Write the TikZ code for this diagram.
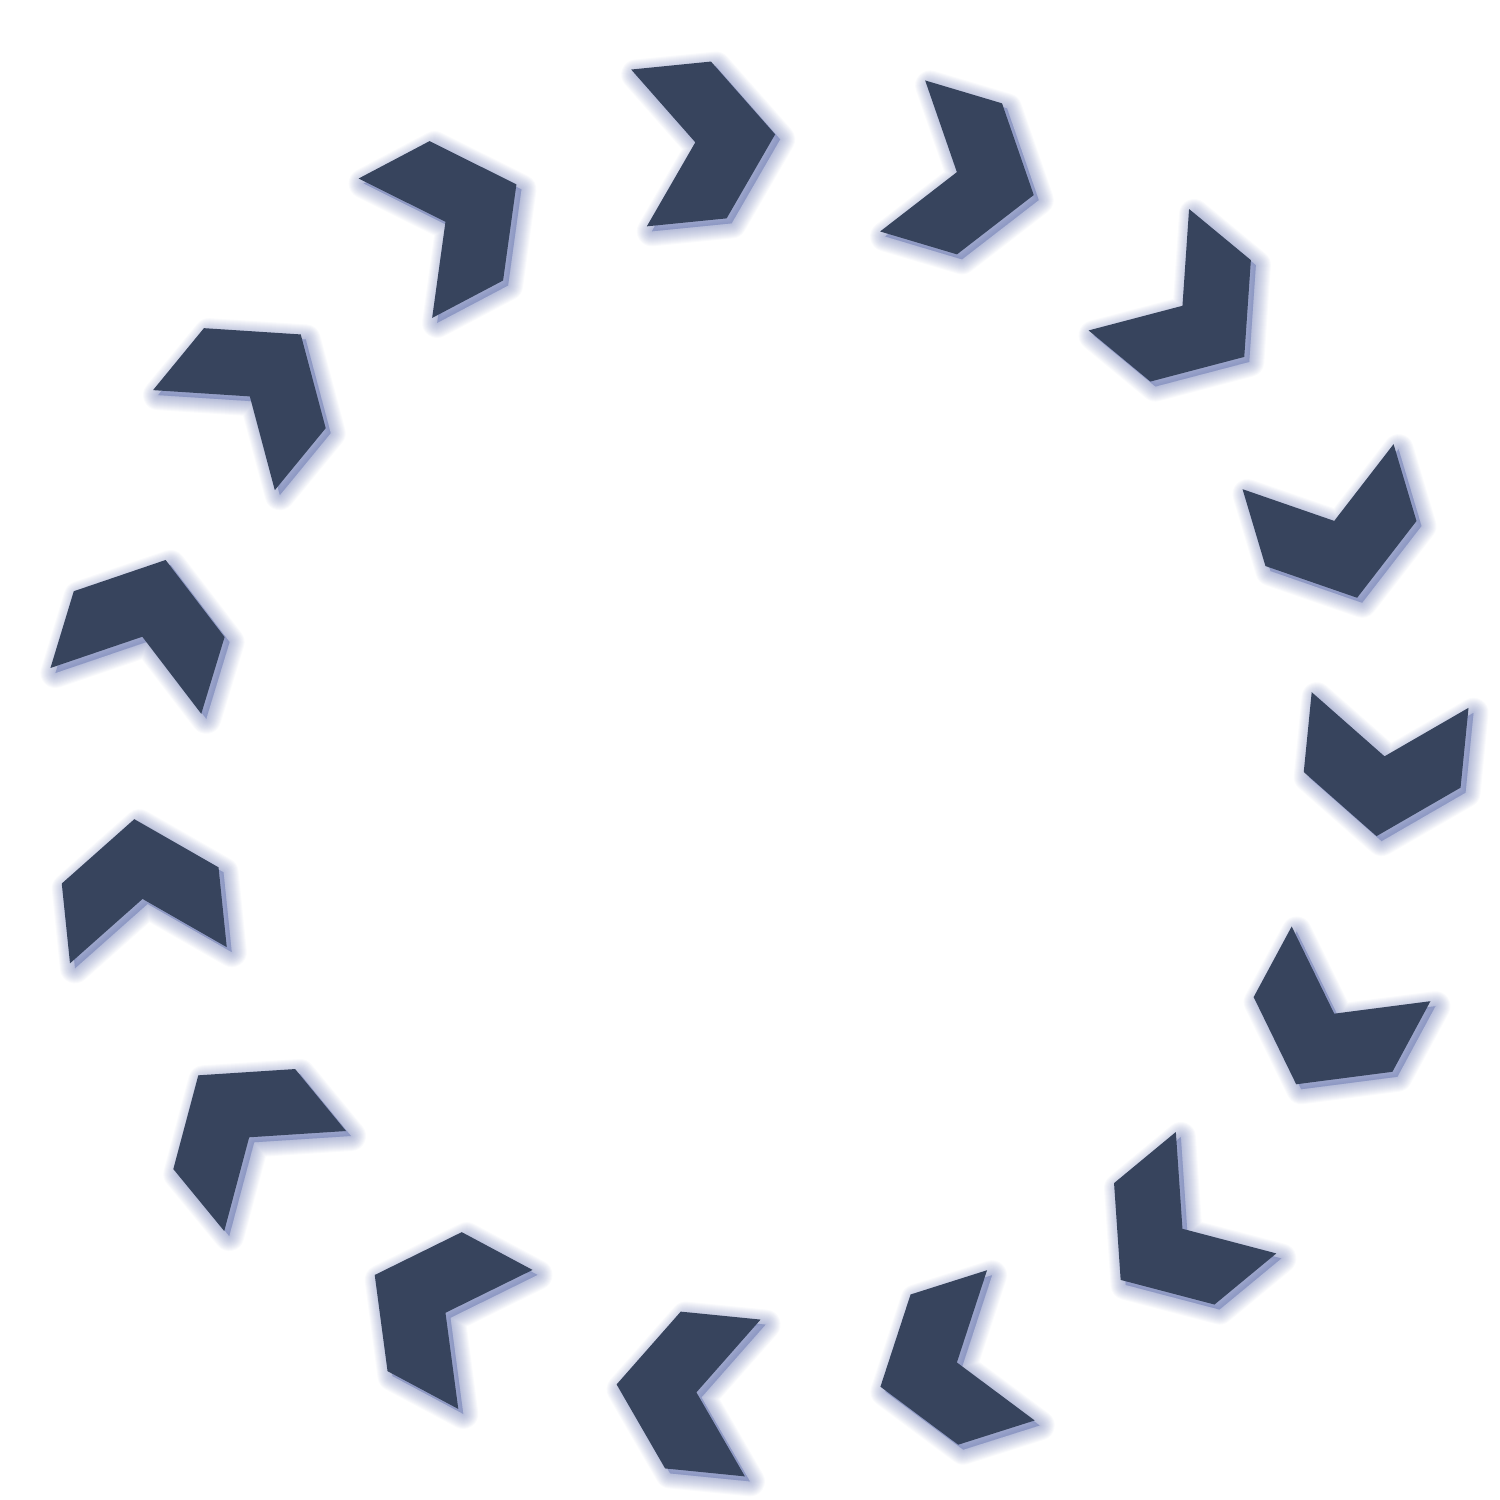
\documentclass[tikz,border=0pt]{standalone}
\usetikzlibrary{calc}

\definecolor{chevronblue}{RGB}{55,68,93}
\definecolor{glowblue}{RGB}{84,100,165}

\begin{document}
\begin{tikzpicture}[
  chevron/.style={fill=chevronblue},
  glow/.style={draw=glowblue,fill=glowblue,line join=round,opacity=.035},
]
  \newcommand*{\MainRadius}{6.28}
  \newcommand*{\ChevronPath}{
    (0,0) -- (-0.566,0.788) -- (0.236,0.788) -- (0.802,0)
    -- (0.236,-0.788) -- (-0.566,-0.788) -- cycle
  }

  \useasboundingbox (0,0) rectangle (15,15);
  \coordinate (M) at (7.566,7.327);

  % Notch points of the chevrons, names: c1, c2, ...
  \foreach \a [count=\i] in {95.6,71.4,47.3,23.1,1.0,-23.1,-47.3,-71.4,
    -95.5,-119.7,-143.9,-167.9,168.0,143.8,119.7} {
    \path (M) ++(\a:\MainRadius) coordinate (c\i);
  }

  % Chevrons, turned along the ring, with a soft shadow down right
  \foreach \r [count=\i] in {5.7,343.4,320.4,286.6,264.3,241.7,219.6,197.6,
    174.3,151.9,129.4,95.9,73.1,50.6,27.8} {
    \foreach \w in {30,28,...,2} {
      \path[glow, line width=\w*0.01cm,
        shift={($(c\i)+(0.05,-0.05)$)}, rotate=\r] \ChevronPath;
    }
    \fill[chevron, shift={(c\i)}, rotate=\r] \ChevronPath;
  }

\end{tikzpicture}
\end{document}
